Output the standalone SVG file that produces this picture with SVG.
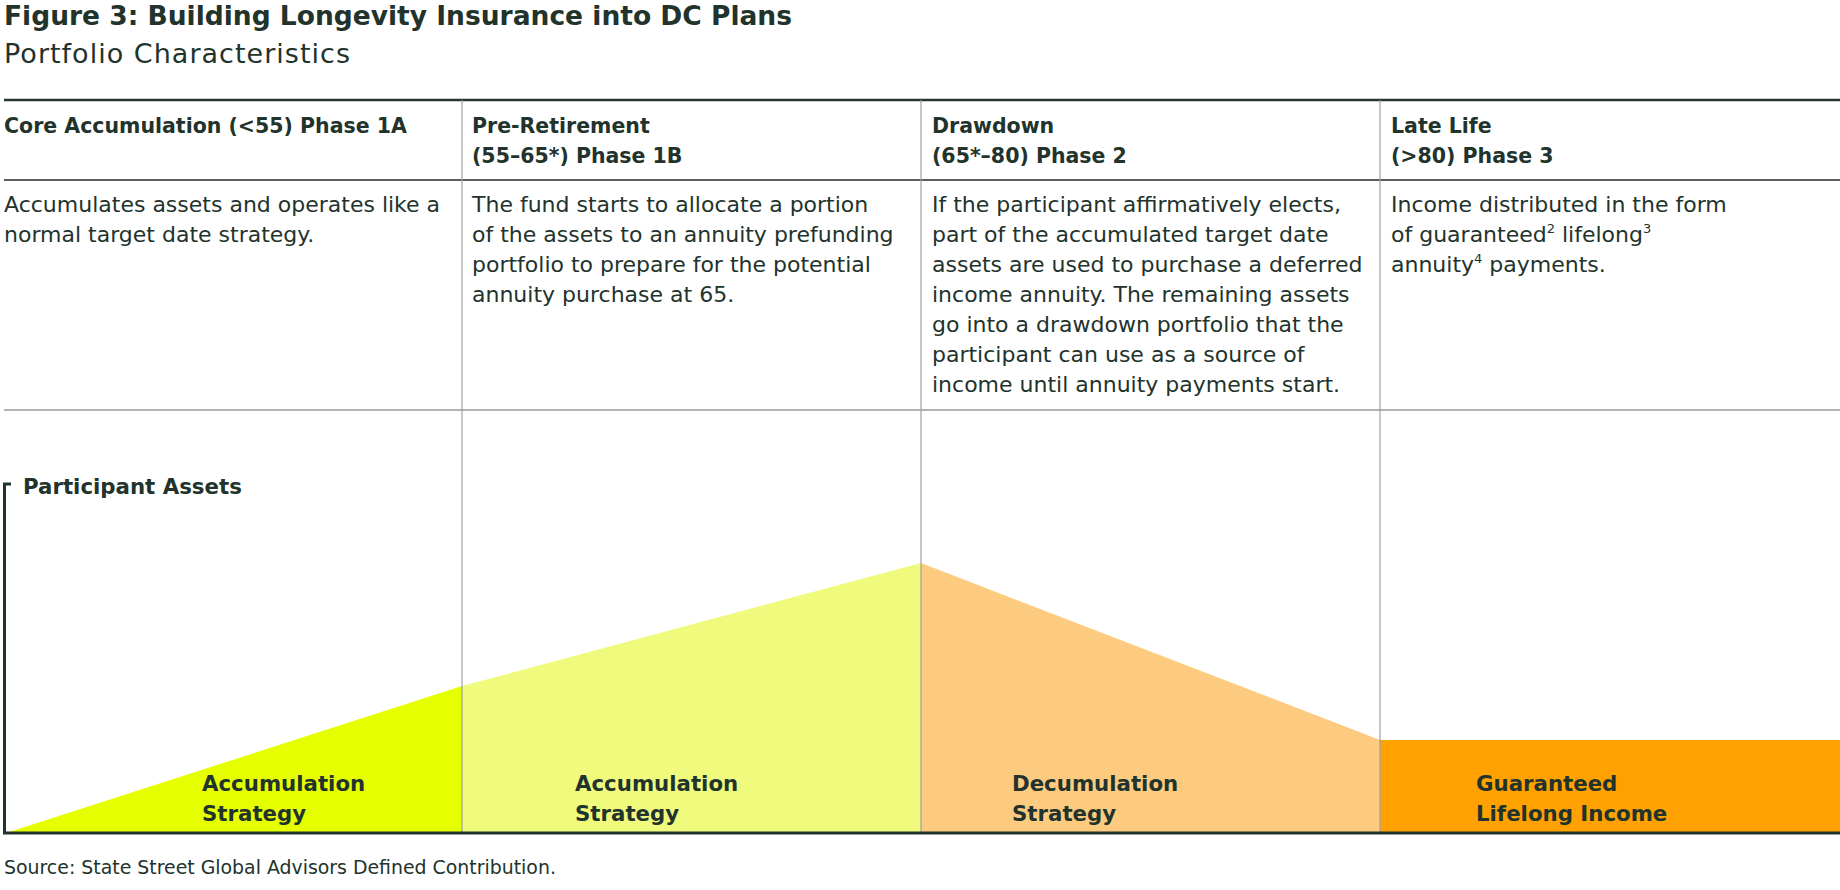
<svg xmlns="http://www.w3.org/2000/svg" width="1840" height="890" viewBox="0 0 1840 890">
<style>
text{font-family:"DejaVu Sans","Liberation Sans",sans-serif;fill:#22332c}
.title{font-size:26.5px;font-weight:bold}
.sub{font-size:27px}
.hd{font-size:20.5px;font-weight:bold}
.body{font-size:22px}
.lbl{font-size:21.3px;font-weight:bold}
.src{font-size:18.9px}
.sup{font-size:13px}
.rule-dark{stroke:#2b3530;stroke-width:2.5;fill:none}
.rule-mid{stroke:#5a5f5c;stroke-width:2;fill:none}
.rule-light{stroke:#9a9c9a;stroke-width:1.5;fill:none}
.div{stroke:#a0a0a0;stroke-width:1.2;fill:none}
.axis{stroke:#22332c;stroke-width:3;fill:none}
</style>
<rect width="1840" height="890" fill="#ffffff"/>
<g id="heading">
<text class="title" x="4" y="25" textLength="788">Figure 3: Building Longevity Insurance into DC Plans</text>
<text class="sub" x="4" y="63" textLength="346">Portfolio Characteristics</text>
</g>
<g id="areas">
<polygon points="6,833 462,686 462,833" fill="#e6ff00"/>
<polygon points="462,686 921,563 921,833 462,833" fill="#f0fb7d"/>
<polygon points="921,563 1380,740 1380,833 921,833" fill="#fdcb7f"/>
<rect x="1380" y="740" width="460" height="93" fill="#ffa100"/>
</g>
<g id="rules">
<line class="rule-dark" x1="4" y1="100" x2="1840" y2="100"/>
<line class="rule-mid" x1="4" y1="180" x2="1840" y2="180"/>
<line class="rule-light" x1="4" y1="410" x2="1840" y2="410"/>
<line class="div" x1="462" y1="100" x2="462" y2="833"/>
<line class="div" x1="921" y1="100" x2="921" y2="833"/>
<line class="div" x1="1380" y1="100" x2="1380" y2="833"/>
</g>
<g id="phase-1a">
<text class="hd" x="4" y="133">Core Accumulation (&lt;55) Phase 1A</text>
<text class="body" x="4" y="212">Accumulates assets and operates like a</text>
<text class="body" x="4" y="242">normal target date strategy.</text>
</g>
<g id="phase-1b">
<text class="hd" x="472" y="133">Pre-Retirement</text>
<text class="hd" x="472" y="163">(55–65*) Phase 1B</text>
<text class="body" x="472" y="212">The fund starts to allocate a portion</text>
<text class="body" x="472" y="242">of the assets to an annuity prefunding</text>
<text class="body" x="472" y="272">portfolio to prepare for the potential</text>
<text class="body" x="472" y="302">annuity purchase at 65.</text>
</g>
<g id="phase-2">
<text class="hd" x="932" y="133">Drawdown</text>
<text class="hd" x="932" y="163">(65*–80) Phase 2</text>
<text class="body" x="932" y="212">If the participant affirmatively elects,</text>
<text class="body" x="932" y="242">part of the accumulated target date</text>
<text class="body" x="932" y="272">assets are used to purchase a deferred</text>
<text class="body" x="932" y="302">income annuity. The remaining assets</text>
<text class="body" x="932" y="332">go into a drawdown portfolio that the</text>
<text class="body" x="932" y="362">participant can use as a source of</text>
<text class="body" x="932" y="392">income until annuity payments start.</text>
</g>
<g id="phase-3">
<text class="hd" x="1391" y="133">Late Life</text>
<text class="hd" x="1391" y="163">(&gt;80) Phase 3</text>
<text class="body" x="1391" y="212">Income distributed in the form</text>
<text class="body" x="1391" y="242">of guaranteed<tspan class="sup" dy="-9">2</tspan><tspan dy="9"> lifelong</tspan><tspan class="sup" dy="-9">3</tspan></text>
<text class="body" x="1391" y="272">annuity<tspan class="sup" dy="-9">4</tspan><tspan dy="9"> payments.</tspan></text>
</g>
<g id="axis">
<path class="axis" d="M11,484 H4.5 V833 H1840"/>
<text class="lbl" x="23" y="494">Participant Assets</text>
</g>
<g id="label-accumulation-1">
<text class="lbl" x="202" y="791">Accumulation</text>
<text class="lbl" x="202" y="821">Strategy</text>
</g>
<g id="label-accumulation-2">
<text class="lbl" x="575" y="791">Accumulation</text>
<text class="lbl" x="575" y="821">Strategy</text>
</g>
<g id="label-decumulation">
<text class="lbl" x="1012" y="791">Decumulation</text>
<text class="lbl" x="1012" y="821">Strategy</text>
</g>
<g id="label-guaranteed">
<text class="lbl" x="1476" y="791">Guaranteed</text>
<text class="lbl" x="1476" y="821">Lifelong Income</text>
</g>
<g id="source">
<text class="src" x="4" y="874">Source: State Street Global Advisors Defined Contribution.</text>
</g>
</svg>
